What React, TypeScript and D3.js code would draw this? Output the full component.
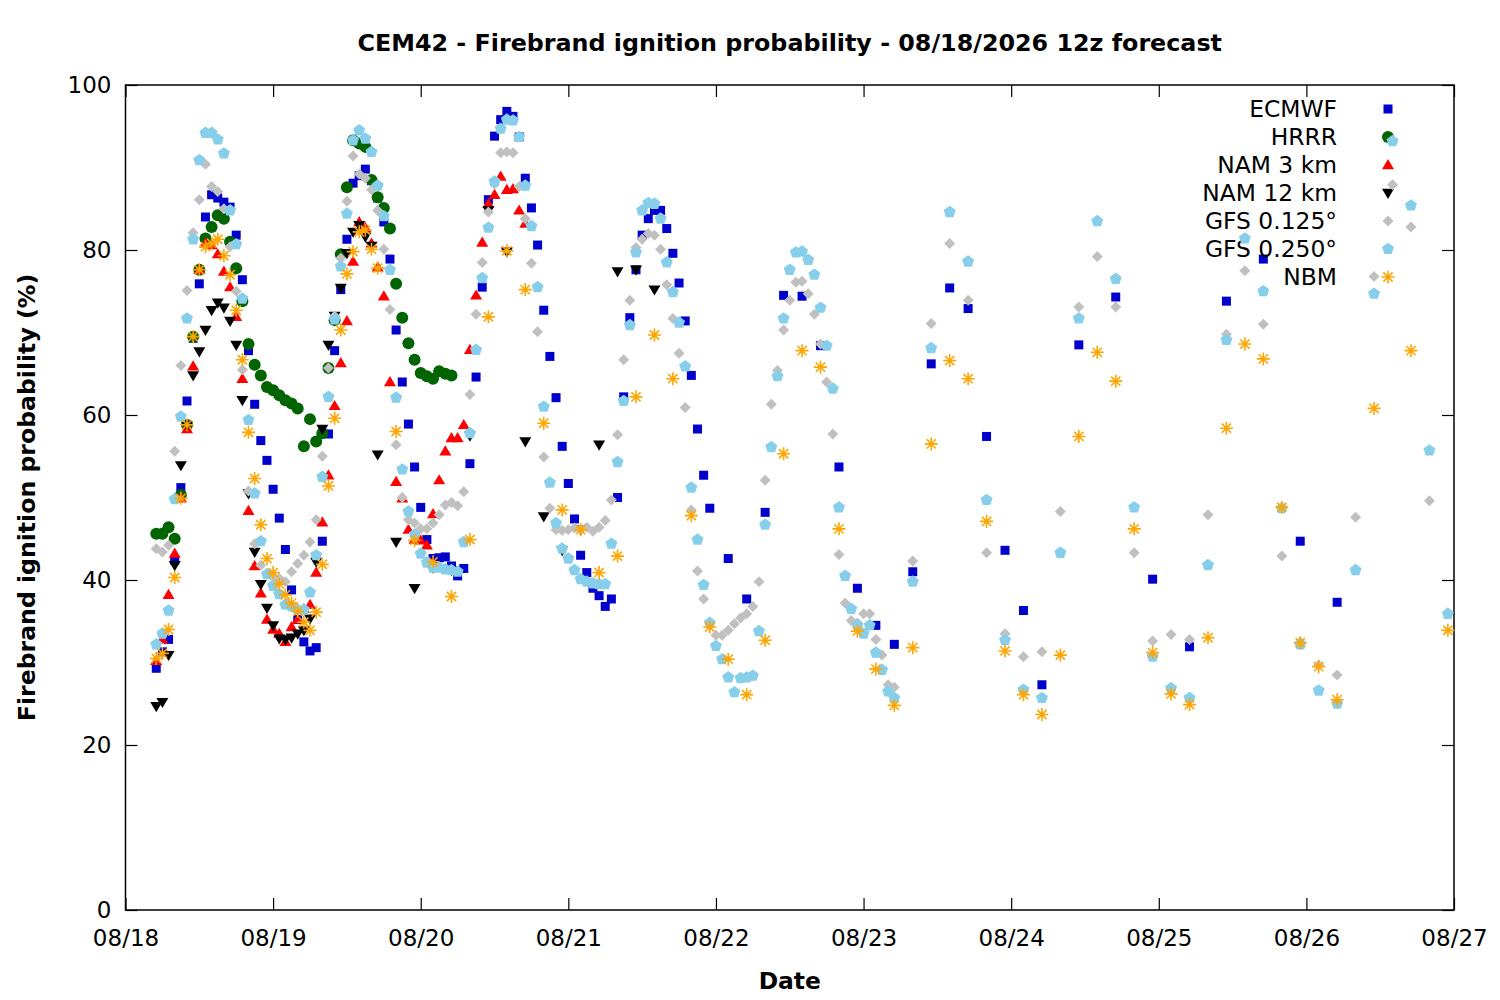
import * as d3 from "d3"
import { useEffect, useRef } from "react"

// hour lists (local hours counted from 08/18 00)
const steps = (a: number, b: number, s: number) => d3.range(a, b + 1, s)

const ecmwfHours = [...steps(5, 95, 1), ...steps(98, 146, 3), ...steps(149, 197, 6)]
const ecmwfValues = [
    29.3, 31.3, 32.8, 42.4, 51.2, 61.7, 69.3, 75.9, 84.0, 86.7,
    86.3, 85.8, 85.2, 81.8, 76.4, 67.8, 61.3, 56.9, 54.5, 51.0,
    47.5, 43.7, 38.8, 35.2, 32.5, 31.4, 31.8, 44.7, 57.7, 67.8,
    75.2, 81.3, 88.1, 89.0, 89.8, 88.4, 86.3, 83.4, 78.9, 70.3,
    64.0, 58.9, 53.7, 48.8, 44.9, 42.6, 42.7, 42.8, 41.7, 40.5,
    41.4, 54.1, 64.6, 75.5, 86.1, 93.8, 95.8, 96.8, 96.2, 93.7,
    88.7, 85.1, 80.6, 72.7, 67.1, 62.1, 56.2, 51.7, 47.4, 43.0,
    40.9, 39.0, 38.1, 36.8, 37.7, 50.0, 62.2, 71.8, 77.6, 81.8,
    83.8, 84.8, 84.8, 82.6, 79.6, 76.0, 71.4, 64.8, 58.3, 52.7,
    48.7,
    42.6, 37.7, 48.2, 74.5, 74.4, 68.4, 53.7, 39.0, 34.5, 32.2,
    41.0, 66.2, 75.4, 72.9, 57.4, 43.6, 36.3,
    27.3, 68.5, 74.3, 40.1, 31.9, 73.8, 78.9, 44.7, 37.3,
]

const hrrrHours = steps(5, 53, 1)
const hrrrValues = [
    45.6, 45.6, 46.4, 45.0, 50.3, 58.8, 69.5, 77.6, 81.4, 82.8,
    84.2, 83.8, 81.0, 77.8, 73.8, 68.6, 66.1, 64.8, 63.4, 63.0,
    62.4, 61.8, 61.4, 60.8, 56.2, 59.5, 56.8, 57.8, 65.7, 71.5,
    79.5, 87.6, 93.3, 92.9, 92.5, 88.5, 86.4, 85.1, 82.6, 75.9,
    71.8, 68.7, 66.7, 65.1, 64.7, 64.4, 65.3, 65.0, 64.8,
]

const nam3Hours = steps(5, 65, 1)
const nam3Values = [
    30.2, 32.8, 38.2, 43.2, 49.9, 58.3, 65.9, 77.6, 80.8, 80.6,
    79.5, 77.4, 75.5, 71.9, 64.4, 48.4, 41.7, 38.4, 35.2, 34.0,
    33.5, 32.5, 34.3, 35.2, 36.5, 37.0, 40.9, 47.0, 52.7, 61.1,
    66.3, 71.4, 78.6, 83.4, 82.7, 80.8, 77.9, 74.4, 64.0, 51.9,
    49.9, 46.1, 44.9, 44.8, 44.2, 48.0, 52.1, 55.6, 57.2, 57.2,
    58.8, 67.9, 74.5, 80.9, 85.6, 86.7, 88.9, 87.3, 87.4, 84.8,
    83.2,
]

const nam12Hours = [...steps(5, 41, 1), ...steps(44, 86, 3)]
const nam12Values = [
    24.7, 25.2, 30.9, 41.8, 53.9, 58.7, 64.8, 67.7, 70.3, 72.7,
    73.6, 73.0, 71.4, 68.5, 61.8, 50.5, 43.4, 39.5, 36.6, 34.5,
    32.9, 32.8, 33.0, 33.5, 33.9, 35.3, 42.2, 58.3, 68.5, 72.0,
    75.4, 79.6, 82.2, 83.0, 81.6, 80.5, 55.2,
    44.6, 39.0, 41.5, 41.2, 57.5, 84.8, 79.8, 56.8, 47.7, 43.6,
    46.1, 56.4, 77.4, 77.6, 75.2,
]

const gfs125Hours = [...steps(5, 125, 1), ...steps(128, 215, 3)]
const gfs125Values = [
    43.8, 43.4, 44.2, 55.6, 66.0, 75.1, 82.1, 86.1, 90.4, 87.7,
    87.1, 85.0, 80.4, 75.0, 65.5, 50.8, 44.4, 41.8, 40.8, 40.4,
    40.2, 39.8, 41.0, 42.0, 43.0, 44.6, 47.3, 55.0, 65.7, 72.0,
    79.0, 85.9, 91.4, 89.2, 88.7, 87.3, 84.8, 80.1, 72.8, 56.4,
    50.0, 47.3, 46.9, 46.2, 46.2, 46.9, 47.9, 49.1, 49.4, 49.0,
    50.7, 62.5, 72.2, 78.5, 84.6, 88.0, 91.8, 91.9, 91.8, 87.7,
    83.8, 78.4, 70.1, 54.9, 48.7, 46.1, 46.0, 46.1, 46.3, 46.1,
    46.4, 45.9, 46.4, 47.2, 49.7, 57.6, 66.7, 73.9, 80.3, 81.3,
    82.0, 81.8, 80.1, 75.8, 71.7, 67.5, 60.9, 48.5, 41.1, 37.7,
    34.9, 33.3, 33.3, 33.9, 34.7, 35.4, 35.9, 36.8, 39.8, 52.1,
    61.3, 65.4, 70.3, 73.9, 76.1, 76.2, 74.7, 72.2, 68.6, 64.0,
    57.7, 43.1, 37.2, 35.1, 34.8, 35.9, 35.9, 32.8, 30.9, 27.3,
    27.0,
    42.3, 71.1, 80.8, 73.9, 43.3, 33.5, 30.7, 31.3, 48.3, 73.1,
    79.2, 73.1, 43.3, 32.6, 33.4, 32.8, 47.9, 69.8, 77.5, 71.0,
    42.9, 32.5, 29.7, 28.5, 47.6, 76.8, 87.9, 82.8, 49.6, 36.0,
]

const gfs250Hours = [...steps(5, 125, 1), ...steps(128, 215, 3)]
const gfs250Values = [
    32.2, 33.5, 36.3, 49.8, 59.8, 71.7, 81.3, 90.9, 94.2, 94.2,
    93.4, 91.7, 84.8, 80.7, 74.1, 59.4, 50.5, 44.7, 40.7, 39.3,
    38.3, 37.0, 36.8, 36.4, 36.4, 38.5, 43.0, 52.5, 62.2, 71.6,
    78.0, 84.4, 93.3, 94.5, 93.5, 91.9, 87.8, 84.1, 77.6, 62.1,
    53.4, 48.3, 45.5, 43.2, 42.1, 41.5, 41.5, 41.3, 41.2, 41.0,
    44.6, 57.8, 67.9, 76.6, 82.7, 88.3, 94.7, 95.8, 95.7, 93.7,
    87.8, 82.9, 75.5, 61.0, 51.8, 46.9, 43.8, 42.6, 41.2, 40.1,
    39.8, 39.6, 39.5, 39.5, 44.4, 54.3, 61.7, 70.9, 79.7, 84.8,
    85.7, 85.6, 83.8, 78.5, 74.9, 71.2, 65.9, 51.2, 44.9, 39.4,
    34.8, 32.0, 30.4, 28.2, 26.4, 28.1, 28.2, 28.4, 33.8, 46.7,
    56.1, 64.7, 71.7, 77.6, 79.7, 79.8, 78.8, 77.0, 73.0, 68.4,
    63.2, 48.8, 40.5, 36.5, 34.5, 33.5, 34.5, 31.2, 29.1, 26.5,
    25.7,
    39.8, 68.1, 84.6, 78.6, 49.7, 32.7, 26.7, 25.7, 43.3, 71.7,
    83.5, 76.5, 48.8, 30.7, 26.9, 25.7, 41.8, 69.1, 81.4, 75.0,
    48.7, 32.2, 26.6, 25.0, 41.2, 74.7, 93.2, 85.4, 55.7, 35.9,
]

const nbmHours = [...steps(5, 41, 1), ...steps(44, 197, 3), ...steps(203, 215, 6)]
const nbmValues = [
    30.5, 31.1, 34.0, 40.3, 49.9, 58.8, 69.5, 77.6, 80.4, 80.8,
    81.3, 79.3, 77.0, 72.7, 66.7, 57.9, 52.3, 46.7, 42.6, 40.9,
    39.5, 38.2, 37.2, 36.2, 34.9, 33.9, 36.1, 41.9, 51.4, 59.6,
    70.3, 77.1, 79.8, 82.2, 82.4, 80.1, 77.8,
    58.0, 44.8, 42.2, 38.0, 44.9, 71.9, 79.9, 75.2, 59.0, 48.5,
    46.1, 40.9, 42.9, 62.2, 69.7, 64.4, 47.8, 34.3, 30.4, 26.1,
    32.7, 55.3, 67.8, 65.8, 46.2, 33.8, 29.2, 24.8, 31.8, 56.5,
    66.6, 64.4, 47.1, 31.4, 26.1, 23.7, 30.9, 57.4, 67.6, 64.1,
    46.2, 31.2, 26.2, 24.9, 33.0, 58.4, 68.6, 66.8, 48.8, 32.4,
    29.5, 25.5,
    60.8, 67.8, 33.9,
]

const yTicks = [0, 20, 40, 60, 80, 100]

type Shape = "square" | "circle" | "up" | "down" | "diamond" | "pentagon" | "star"

const pentagon = d3.range(5).map(k => {
    const a = -Math.PI / 2 + k * 2 * Math.PI / 5
    return `${(6.3 * Math.cos(a)).toFixed(2)},${(6.3 * Math.sin(a)).toFixed(2)}`
})

const shapePaths: Record<Shape, string> = {
    square: "M-4.5,-4.5h9v9h-9z",
    circle: "M6,0A6,6 0 1,1 -6,0A6,6 0 1,1 6,0Z",
    up: "M0,-6L6,4.2L-6,4.2Z",
    down: "M0,6L6,-4.2L-6,-4.2Z",
    diamond: "M0,-5.5L5.5,0L0,5.5L-5.5,0Z",
    pentagon: "M" + pentagon.join("L") + "Z",
    star: "M0,-6.5V6.5M-6.5,0H6.5M-4.6,-4.6L4.6,4.6M-4.6,4.6L4.6,-4.6",
}

const series: { name: string, hours: number[], values: number[], shape: Shape, color: string }[] = [
    { name: "ECMWF", hours: ecmwfHours, values: ecmwfValues, shape: "square", color: "#0000cd" },
    { name: "HRRR", hours: hrrrHours, values: hrrrValues, shape: "circle", color: "#006400" },
    { name: "NAM 3 km", hours: nam3Hours, values: nam3Values, shape: "up", color: "#ff0000" },
    { name: "NAM 12 km", hours: nam12Hours, values: nam12Values, shape: "down", color: "#000000" },
    { name: "GFS 0.125°", hours: gfs125Hours, values: gfs125Values, shape: "diamond", color: "#c0c0c0" },
    { name: "GFS 0.250°", hours: gfs250Hours, values: gfs250Values, shape: "pentagon", color: "#87ceeb" },
    { name: "NBM", hours: nbmHours, values: nbmValues, shape: "star", color: "#ffa500" },
]

export default function App() {
    const svgRef = useRef<SVGSVGElement>(null)

    useEffect(() => {
        const width = 1500
        const height = 1000
        const left = 125.5
        const right = 1454
        const top = 85
        const bottom = 910
        const font = "'DejaVu Sans', sans-serif"

        const t0 = Date.UTC(2026, 7, 18)
        const toDate = (h: number) => new Date(t0 + h * 3600e3)
        const x = d3.scaleUtc([new Date(t0), new Date(Date.UTC(2026, 7, 27))], [left, right])
        const y = d3.scaleLinear([0, 100], [bottom, top])

        if (svgRef.current !== null) svgRef.current.innerHTML = ""
        const svg = d3.select(svgRef.current)
            .attr("width", width)
            .attr("height", height)
            .attr("viewBox", [0, 0, width, height])

        svg.append("rect").attr("width", width).attr("height", height).attr("fill", "white")

        const days = d3.utcDay.every(1)!

        const styleAxis = (g: d3.Selection<SVGGElement, unknown, null, undefined>) => {
            g.select(".domain").remove()
            g.selectAll(".tick line").attr("stroke", "black").attr("stroke-width", 1.2)
            g.selectAll(".tick text").attr("fill", "black")
            g.attr("font-family", font).attr("font-size", 23)
        }

        svg.append("g")
            .attr("transform", `translate(0,${bottom})`)
            .call(d3.axisBottom(x).ticks(days).tickFormat(d3.utcFormat("%m/%d") as any)
                .tickSizeInner(-12).tickSizeOuter(0).tickPadding(20))
            .call(styleAxis)
        svg.append("g")
            .attr("transform", `translate(0,${top})`)
            .call(d3.axisTop(x).ticks(days).tickFormat(() => "").tickSizeInner(-12).tickSizeOuter(0))
            .call(styleAxis)
        svg.append("g")
            .attr("transform", `translate(${left},0)`)
            .call(d3.axisLeft(y).tickValues(yTicks).tickSizeInner(-12).tickSizeOuter(0).tickPadding(14))
            .call(styleAxis)
        svg.append("g")
            .attr("transform", `translate(${right},0)`)
            .call(d3.axisRight(y).tickValues(yTicks).tickFormat(() => "").tickSizeInner(-12).tickSizeOuter(0))
            .call(styleAxis)

        svg.append("rect")
            .attr("x", left).attr("y", top)
            .attr("width", right - left).attr("height", bottom - top)
            .attr("fill", "none").attr("stroke", "black").attr("stroke-width", 1.5)

        svg.append("text")
            .attr("x", (left + right) / 2).attr("y", 51)
            .attr("text-anchor", "middle")
            .attr("font-family", font).attr("font-size", 23.8).attr("font-weight", "bold")
            .text("CEM42 - Firebrand ignition probability - 08/18/2026 12z forecast")

        svg.append("text")
            .attr("x", (left + right) / 2).attr("y", 989)
            .attr("text-anchor", "middle")
            .attr("font-family", font).attr("font-size", 23.4).attr("font-weight", "bold")
            .text("Date")

        svg.append("text")
            .attr("transform", `translate(35,${(top + bottom) / 2}) rotate(-90)`)
            .attr("text-anchor", "middle")
            .attr("font-family", font).attr("font-size", 23.6).attr("font-weight", "bold")
            .text("Firebrand ignition probability (%)")

        const paint = (sel: d3.Selection<any, any, any, any>, s: typeof series[number]) => {
            if (s.shape === "star") {
                sel.attr("fill", "none").attr("stroke", s.color).attr("stroke-width", 1.6)
            } else {
                sel.attr("fill", s.color).attr("stroke", "none")
            }
        }

        series.forEach((s, i) => {
            const ly = 109 + 28 * i
            svg.append("text")
                .attr("x", 1337).attr("y", ly)
                .attr("dy", "0.36em")
                .attr("text-anchor", "end")
                .attr("font-family", font).attr("font-size", 23.4)
                .text(s.name)
            svg.append("path")
                .attr("transform", `translate(1388,${ly})`)
                .attr("d", shapePaths[s.shape])
                .call(paint, s)

            svg.append("g")
                .call(paint, s)
                .selectAll("path")
                .data(d3.zip(s.hours, s.values))
                .join("path")
                .attr("transform", d => `translate(${x(toDate(d[0]))},${y(d[1])})`)
                .attr("d", shapePaths[s.shape])
        })
    }, [])

    return <svg ref={svgRef} style={{ position: "absolute", left: 0, top: 0 }}></svg>
}
